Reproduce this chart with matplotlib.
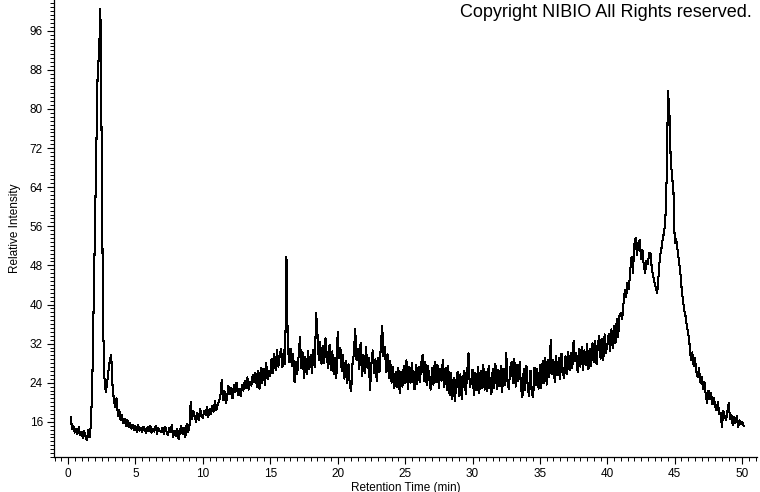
# Chromatogram plot - relative intensity vs retention time
import numpy as np
import matplotlib
matplotlib.use('Agg')
import matplotlib.pyplot as plt
from matplotlib.ticker import MultipleLocator

# Data  ************************************************************************
# sampling of the detector trace (min)
t_start = 0.2
t_step = 0.1

# relative intensity, one row per minute of retention time
intensity = [
	17.0, 14.5, 15.2, 13.8, 14.6, 13.5, 14.9, 13.2,                    # 0.2 - 0.9
	13.9, 12.6, 14.1, 13.0, 12.2, 14.4, 12.8, 15.5, 24.0, 40.0,        # 1
	56.0, 72.0, 88.0, 91.0, 100.5, 71.0, 36.0, 25.0, 22.0, 24.0,       # 2
	26.5, 28.5, 29.7, 23.5, 20.5, 19.0, 20.8, 17.2, 18.5, 16.4,        # 3
	17.3, 15.8, 16.6, 15.2, 16.4, 14.9, 15.8, 14.6, 15.4, 14.3,        # 4
	15.1, 14.0, 15.3, 14.2, 14.8, 13.9, 15.0, 14.4, 13.7, 14.9,        # 5
	14.1, 15.2, 13.8, 14.6, 14.0, 15.1, 13.6, 14.7, 14.2, 13.9,        # 6
	14.8, 13.5, 15.0, 14.1, 13.3, 14.7, 13.9, 15.4, 12.9, 14.2,        # 7
	13.1, 14.6, 12.4, 14.0, 15.2, 13.4, 14.8, 12.8, 15.6, 13.9,        # 8
	14.8, 20.1, 16.5, 18.2, 17.0, 15.9, 17.8, 16.4, 18.6, 17.1,        # 9
	16.8, 18.3, 17.4, 19.0, 16.9, 18.7, 17.6, 19.3, 18.1, 20.2,        # 10
	18.4, 19.6, 20.1, 21.3, 24.6, 20.5, 22.4, 19.8, 21.0, 23.3,        # 11
	21.6, 22.9, 20.8, 23.5, 22.1, 24.0, 21.5, 22.8, 21.2, 23.6,        # 12
	22.4, 24.3, 23.0, 25.1, 22.6, 24.2, 23.4, 25.6, 24.1, 26.0,        # 13
	23.2, 26.4, 22.8, 27.1, 24.0, 26.9, 23.6, 28.0, 24.7, 26.3,        # 14
	25.4, 28.9, 26.0, 29.8, 26.6, 30.7, 27.3, 29.5, 31.0, 27.2,        # 15
	30.6, 27.9, 49.8, 31.5, 28.2, 30.9, 27.4, 29.8, 24.1, 28.3,        # 16
	25.8, 29.4, 33.3, 27.0, 30.2, 24.9, 29.3, 25.7, 30.4, 26.8,        # 17
	29.7, 25.9, 30.8, 27.2, 38.2, 34.0, 28.6, 32.4, 27.9, 31.6,        # 18
	28.0, 33.1, 29.2, 26.9, 31.8, 26.5, 30.4, 25.8, 29.0, 24.9,        # 19
	34.4, 29.1, 31.2, 26.3, 29.6, 24.8, 28.5, 23.9, 27.8, 23.4,        # 20
	22.2, 27.9, 29.8, 35.0, 28.6, 31.0, 26.7, 32.2, 25.3, 29.6,        # 21
	26.0, 31.4, 27.1, 29.0, 22.6, 27.8, 30.6, 25.9, 28.8, 24.3,        # 22
	29.1, 26.2, 31.6, 35.6, 29.4, 31.3, 26.1, 29.8, 24.9, 28.5,        # 23
	24.0, 27.3, 22.9, 26.2, 23.1, 27.0, 21.9, 26.1, 23.2, 27.4,        # 24
	23.9, 28.6, 22.8, 27.3, 24.0, 28.1, 24.6, 22.7, 27.6, 23.8,        # 25
	27.3, 24.1, 28.0, 29.7, 24.3, 28.2, 23.5, 27.5, 24.6, 22.6,        # 26
	27.1, 23.6, 28.3, 24.1, 27.6, 23.0, 26.9, 24.4, 28.7, 23.2,        # 27
	27.0, 22.4, 27.4, 21.5, 25.9, 20.6, 25.0, 20.2, 24.4, 26.2,        # 28
	21.2, 25.7, 20.6, 24.9, 26.4, 21.6, 25.9, 30.0, 23.1, 24.2,        # 29
	26.7, 21.5, 25.9, 22.4, 27.2, 21.8, 26.4, 22.9, 27.7, 22.6,        # 30
	26.1, 22.2, 27.5, 23.4, 21.7, 26.9, 22.9, 27.8, 22.8, 26.6,        # 31
	23.3, 27.4, 22.1, 26.8, 23.5, 30.1, 24.1, 22.7, 27.1, 28.2,        # 32
	24.0, 28.9, 23.2, 27.7, 24.3, 28.2, 22.9, 21.0, 26.8, 22.5,        # 33
	27.5, 23.1, 21.2, 26.4, 22.0, 21.0, 27.1, 23.5, 26.9, 22.8,        # 34
	27.6, 23.0, 28.4, 24.0, 29.1, 23.6, 28.7, 25.1, 32.8, 25.8,        # 35
	28.6, 24.2, 29.5, 25.5, 29.0, 24.7, 29.9, 26.0, 24.9, 29.4,        # 36
	25.8, 30.3, 26.6, 30.0, 27.0, 32.6, 28.5, 30.1, 26.1, 30.9,        # 37
	27.3, 31.4, 26.5, 30.6, 27.6, 31.9, 26.8, 31.0, 27.5, 32.1,        # 38
	28.2, 32.5, 27.8, 31.7, 33.6, 28.9, 33.0, 28.6, 33.9, 30.1,        # 39
	31.8, 34.0, 30.4, 34.9, 31.0, 35.7, 32.1, 37.0, 33.3, 37.8,        # 40
	38.3, 37.0, 40.2, 43.0, 41.6, 44.5, 43.2, 47.1, 49.8, 46.5,        # 41
	52.3, 53.6, 50.1, 52.6, 53.2, 49.4, 51.2, 48.0, 46.5, 49.0,        # 42
	48.2, 50.6, 50.5, 47.3, 45.8, 44.4, 43.5, 42.3, 45.9, 49.8,        # 43
	51.2, 53.3, 54.7, 57.0, 66.0, 83.6, 79.5, 69.6, 66.2, 63.5,        # 44
	52.6, 53.5, 51.3, 49.1, 47.0, 43.6, 41.0, 38.9, 37.6, 35.5,        # 45
	34.1, 31.8, 28.7, 30.2, 27.4, 29.0, 26.3, 25.1, 27.0, 24.0,        # 46
	25.2, 22.7, 24.1, 21.5, 19.9, 22.4, 20.6, 21.8, 19.6, 20.9,        # 47
	19.2, 18.4, 20.1, 17.5, 17.8, 15.0, 18.3, 17.1, 16.4, 18.0,        # 48
	19.8, 16.6, 17.4, 15.3, 16.9, 15.8, 17.2, 15.0, 16.3, 15.5,        # 49
	16.0, 15.2,                                                        # 50
]

time = t_start + t_step * np.arange(len(intensity))

x_ticks = [0, 5, 10, 15, 20, 25, 30, 35, 40, 45, 50]
y_ticks = [16, 24, 32, 40, 48, 56, 64, 72, 80, 88, 96]


# Plot  ************************************************************************
def main():
	plt.rcParams['font.family'] = ['Liberation Sans', 'DejaVu Sans']

	fig = plt.figure(figsize=(7.6, 4.92), dpi=100)
	ax = fig.add_axes([54 / 760, 1 - 457 / 492, 703 / 760, 457 / 492])

	ax.plot(time, intensity, color='black', linewidth=0.75, antialiased=False)

	ax.set_xlim(-1.04, 51.1)
	ax.set_ylim(8.8, 102.3)

	# axis frame: only left and bottom
	ax.spines['top'].set_visible(False)
	ax.spines['right'].set_visible(False)
	ax.spines['left'].set_linewidth(0.9)
	ax.spines['bottom'].set_linewidth(0.9)

	ax.set_xticks(x_ticks)
	ax.set_yticks(y_ticks)
	ax.xaxis.set_minor_locator(MultipleLocator(0.5))
	ax.yaxis.set_minor_locator(MultipleLocator(0.8))
	ax.tick_params(which='major', direction='out', length=5, width=0.8, labelsize=8.5, pad=3)
	ax.tick_params(which='minor', direction='out', length=3, width=0.7)

	ax.set_xlabel('Retention Time (min)', fontsize=8.5, labelpad=1)
	ax.set_ylabel('Relative Intensity', fontsize=8.5, labelpad=6)

	fig.text(752 / 760, 1 - 4 / 492, 'Copyright NIBIO All Rights reserved.',
		ha='right', va='top', fontsize=13)

	plt.savefig('out.png', dpi=100)


# run main module if not imported
if __name__ == "__main__":
	main()
